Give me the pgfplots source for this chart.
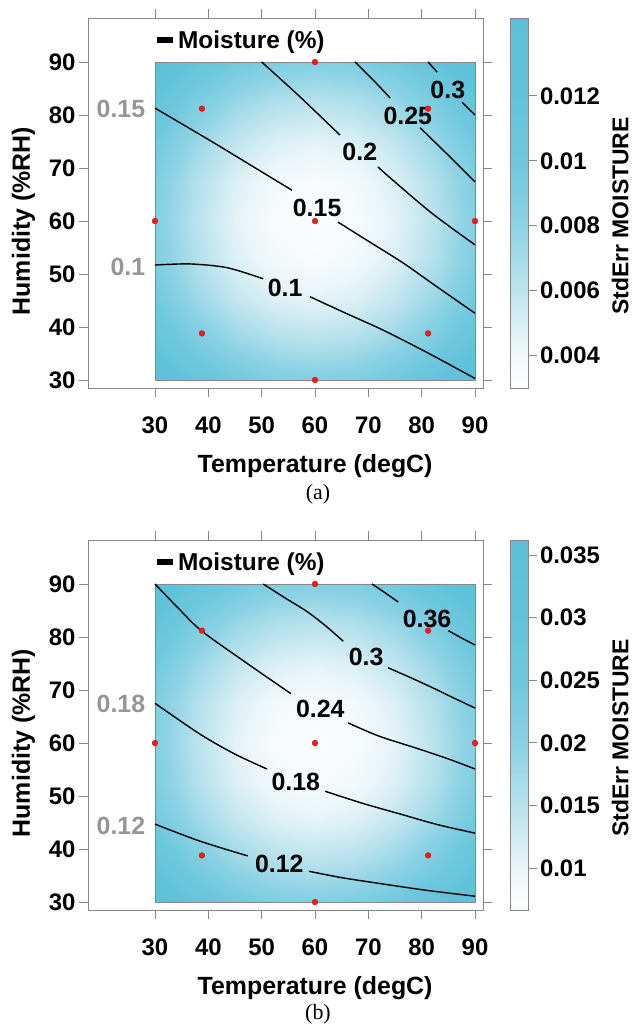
\documentclass[border=0pt]{standalone}
\usepackage{pgfplots}
\pgfplotsset{compat=1.18}
\usepackage{pgfplotstable}
\usepackage{fontspec}
\setmainfont{Liberation Sans}
\newfontfamily\capfont{Liberation Serif}
\definecolor{framegray}{RGB}{135,135,135}
\definecolor{labgray}{RGB}{150,150,150}
\definecolor{ptred}{RGB}{235,30,30}

% standard error field on a 9x9 grid (x = temperature, y = humidity)
\pgfplotstableread{
x y a b
30 30 0.01383 0.03472
37.5 30 0.01151 0.02871
45 30 0.00985 0.02442
52.5 30 0.00886 0.02184
60 30 0.00853 0.02098
67.5 30 0.00886 0.02184
75 30 0.00985 0.02442
82.5 30 0.01151 0.02871
90 30 0.01383 0.03472
30 37.5 0.01151 0.02871
37.5 37.5 0.00919 0.02270
45 37.5 0.00753 0.01840
52.5 37.5 0.00654 0.01583
60 37.5 0.00621 0.01497
67.5 37.5 0.00654 0.01583
75 37.5 0.00753 0.01840
82.5 37.5 0.00919 0.02270
90 37.5 0.01151 0.02871
30 45 0.00985 0.02442
37.5 45 0.00753 0.01840
45 45 0.00588 0.01411
52.5 45 0.00488 0.01153
60 45 0.00455 0.01068
67.5 45 0.00488 0.01153
75 45 0.00588 0.01411
82.5 45 0.00753 0.01840
90 45 0.00985 0.02442
30 52.5 0.00886 0.02184
37.5 52.5 0.00654 0.01583
45 52.5 0.00488 0.01153
52.5 52.5 0.00389 0.00896
60 52.5 0.00356 0.00810
67.5 52.5 0.00389 0.00896
75 52.5 0.00488 0.01153
82.5 52.5 0.00654 0.01583
90 52.5 0.00886 0.02184
30 60 0.00853 0.02098
37.5 60 0.00621 0.01497
45 60 0.00455 0.01068
52.5 60 0.00356 0.00810
60 60 0.00323 0.00724
67.5 60 0.00356 0.00810
75 60 0.00455 0.01068
82.5 60 0.00621 0.01497
90 60 0.00853 0.02098
30 67.5 0.00886 0.02184
37.5 67.5 0.00654 0.01583
45 67.5 0.00488 0.01153
52.5 67.5 0.00389 0.00896
60 67.5 0.00356 0.00810
67.5 67.5 0.00389 0.00896
75 67.5 0.00488 0.01153
82.5 67.5 0.00654 0.01583
90 67.5 0.00886 0.02184
30 75 0.00985 0.02442
37.5 75 0.00753 0.01840
45 75 0.00588 0.01411
52.5 75 0.00488 0.01153
60 75 0.00455 0.01068
67.5 75 0.00488 0.01153
75 75 0.00588 0.01411
82.5 75 0.00753 0.01840
90 75 0.00985 0.02442
30 82.5 0.01151 0.02871
37.5 82.5 0.00919 0.02270
45 82.5 0.00753 0.01840
52.5 82.5 0.00654 0.01583
60 82.5 0.00621 0.01497
67.5 82.5 0.00654 0.01583
75 82.5 0.00753 0.01840
82.5 82.5 0.00919 0.02270
90 82.5 0.01151 0.02871
30 90 0.01383 0.03472
37.5 90 0.01151 0.02871
45 90 0.00985 0.02442
52.5 90 0.00886 0.02184
60 90 0.00853 0.02098
67.5 90 0.00886 0.02184
75 90 0.00985 0.02442
82.5 90 0.01151 0.02871
90 90 0.01383 0.03472
}\setable

% design points
\pgfplotstableread{
T H
30 60
60 60
90 60
60 30
60 90
38.8 38.8
38.8 81.2
81.2 38.8
81.2 81.2
}\designpts

% contour labels
\pgfplotstableread{
x y lab
54.4 47.4 0.1
60.4 62.5 0.15
68.4 73.0 0.2
77.4 79.8 0.25
84.9 84.7 0.3
}\labA
\pgfplotstableread{
x y lab
28.2 81.1 0.15
28.2 51.3 0.1
}\edgeA
\pgfplotstableread{
x y lab
53.3 37.2 0.12
56.4 52.6 0.18
61.0 66.4 0.24
69.6 76.3 0.3
81.0 83.4 0.36
}\labB
\pgfplotstableread{
x y lab
28.2 67.4 0.18
28.2 44.4 0.12
}\edgeB

\pgfplotsset{
  colormap={se}{rgb255(0cm)=(255,255,255); rgb255(1cm)=(238,247,250); rgb255(2.6cm)=(190,228,238); rgb255(4.4cm)=(140,210,228); rgb255(6.1cm)=(112,200,222); rgb255(7.9cm)=(97,195,218); rgb255(10cm)=(90,192,216)},
  panel/.style={
    scale only axis, width=395bp, height=370bp,
    xmin=17.44, xmax=91.5, ymin=28.5, ymax=98.3,
    xtick={30,40,...,90}, ytick={30,40,...,90},
    tick align=outside, major tick length=9bp,
    axis line style={framegray, line width=0.8bp},
    every tick/.style={framegray, line width=0.8bp},
    tick label style={font=\bfseries\fontsize{24}{24}\selectfont, text=black},
    xticklabel style={yshift=-16bp},
    /pgf/number format/assume math mode=true,
    xlabel={Temperature (degC)}, ylabel={Humidity (\%RH)},
    label style={font=\bfseries\fontsize{25}{25}\selectfont},
    xlabel style={at={(ticklabel cs:0.575)}, yshift=-14bp},
    ylabel style={at={(ticklabel cs:0.451,7bp)}},
    colormap name=se, colorbar,
    colorbar/width=18bp,
    legend style={at={(0.167,0.9405)}, anchor=west, draw=none, fill=none, inner sep=0pt,
      font=\bfseries\fontsize{24.5}{24.5}\selectfont},
    legend image code/.code={\draw[line width=6bp, black] (0bp,0bp) -- (16bp,0bp);},
  },
  cbar/.style={
    at={(parent axis.north east)}, anchor=north west, xshift=19bp,
    scale only axis, width=18bp,
    axis line style={framegray, line width=0.8bp},
    tick align=outside, major tick length=8bp, ytick pos=right,
    every tick/.style={framegray, line width=0.8bp},
    yticklabel style={font=\bfseries\fontsize{24}{24}\selectfont},
    scaled y ticks=false,
    ylabel={StdErr MOISTURE},
    ylabel style={font=\bfseries\fontsize{23}{23}\selectfont, at={(ticklabel cs:0.465,5bp)}},
  },
  cline/.style={black, line width=1.4bp, smooth},
  clab/.style={draw=none, nodes near coords, point meta=explicit symbolic,
    nodes near coords align=center,
    every node near coord/.append style={font=\bfseries\fontsize{25}{25}\selectfont, inner sep=0pt, anchor=center}},
  elab/.style={draw=none, nodes near coords, point meta=explicit symbolic,
    every node near coord/.append style={font=\bfseries\fontsize{25}{25}\selectfont, text=labgray, inner sep=0pt, anchor=east}},
}

\begin{document}
\begin{tikzpicture}
\useasboundingbox (0,0) rectangle (636bp,1027bp);

% ---------------- panel (a) ----------------
\begin{axis}[panel, at={(88bp,639bp)}, anchor=south west,
  point meta min=0.003, point meta max=0.0144,
  colorbar style={cbar, ytick={0.004,0.006,0.008,0.01,0.012},
    yticklabels={0.004,0.006,0.008,0.01,0.012}}]
\addplot[surf, shader=interp, mesh/cols=9, point meta=explicit, forget plot]
  table[x=x, y=y, meta=a] {\setable};
\addplot[framegray, line width=0.6bp, forget plot] coordinates {(30,30) (90,30) (90,90) (30,90) (30,30)};
\addplot[cline] coordinates {(30,51.7) (36.6,51.9) (43.5,51.2) (50.3,49.1)};
\addlegendentry{Moisture (\%)}
\addplot[cline, forget plot] coordinates {(59.1,45.7) (66,42.5) (72.8,39.4) (81,35.2) (90,30.3)};
\addplot[cline, forget plot] coordinates {(30,81.3) (40.3,75.2) (48,70.5) (55.7,65.8)};
\addplot[cline, forget plot] coordinates {(64.3,59.8) (70,56.2) (76.5,52.1) (83,47.5) (90,42.6)};
\addplot[cline, forget plot] coordinates {(50,90) (57,83.6) (64.7,76.2)};
\addplot[cline, forget plot] coordinates {(71.8,70.2) (74.6,67.7) (82,61.4) (90,55.5)};
\addplot[cline, forget plot] coordinates {(67.5,90) (71,86.5) (74.1,83.2)};
\addplot[cline, forget plot] coordinates {(79.7,77.6) (85,72.4) (90,67.4)};
\addplot[cline, forget plot] coordinates {(81.2,90) (82.9,88.1)};
\addplot[cline, forget plot] coordinates {(87.6,82.4) (90,80)};
\addplot[clab, forget plot] table[x=x, y=y, meta=lab] {\labA};
\addplot[elab, forget plot] table[x=x, y=y, meta=lab] {\edgeA};
\addplot[only marks, mark=*, mark size=2.9bp, mark options={fill=ptred, draw=ptred!85!black}, forget plot]
  table[x=T, y=H] {\designpts};
\end{axis}

% ---------------- panel (b) ----------------
\begin{axis}[panel, at={(88bp,117bp)}, anchor=south west,
  point meta min=0.00665, point meta max=0.0362,
  colorbar style={cbar, ytick={0.01,0.015,0.02,0.025,0.03,0.035},
    yticklabels={0.01,0.015,0.02,0.025,0.03,0.035}}]
\addplot[surf, shader=interp, mesh/cols=9, point meta=explicit, forget plot]
  table[x=x, y=y, meta=b] {\setable};
\addplot[framegray, line width=0.6bp, forget plot] coordinates {(30,30) (90,30) (90,90) (30,90) (30,30)};
\addplot[cline] coordinates {(30,44.7) (38.4,41.5) (47.4,38.7)};
\addlegendentry{Moisture (\%)}
\addplot[cline, forget plot] coordinates {(58.9,35.8) (65,34.6) (72.8,33.4) (81,32.2) (90,31.1)};
\addplot[cline, forget plot] coordinates {(30,67.5) (38.4,61.7) (45,57.9) (51,55.1)};
\addplot[cline, forget plot] coordinates {(61.9,50.9) (69,48.6) (76,46.6) (83,44.6) (90,43)};
\addplot[cline, forget plot] coordinates {(30,90) (34.5,85.3) (38.8,81.1) (47.3,75) (55.5,69.3)};
\addplot[cline, forget plot] coordinates {(66.2,63.8) (72,61.3) (79.1,59) (85,57) (90,55.1)};
\addplot[cline, forget plot] coordinates {(50.3,90) (54.5,87.3) (58.5,84.8) (62,82.1) (65.3,79.2)};
\addplot[cline, forget plot] coordinates {(73.7,74.2) (78,72.3) (82.1,70.4) (86,68.5) (90,66.6)};
\addplot[cline, forget plot] coordinates {(70.7,90) (73.2,88.3) (75.6,86.6)};
\addplot[cline, forget plot] coordinates {(85,81.2) (87.5,79.8) (90,78.5)};
\addplot[clab, forget plot] table[x=x, y=y, meta=lab] {\labB};
\addplot[elab, forget plot] table[x=x, y=y, meta=lab] {\edgeB};
\addplot[only marks, mark=*, mark size=2.9bp, mark options={fill=ptred, draw=ptred!85!black}, forget plot]
  table[x=T, y=H] {\designpts};
\end{axis}

\node[font=\capfont\fontsize{22}{22}\selectfont] at (318bp,533bp) {(a)};
\node[font=\capfont\fontsize{22}{22}\selectfont] at (318bp,13bp) {(b)};
\end{tikzpicture}
\end{document}
